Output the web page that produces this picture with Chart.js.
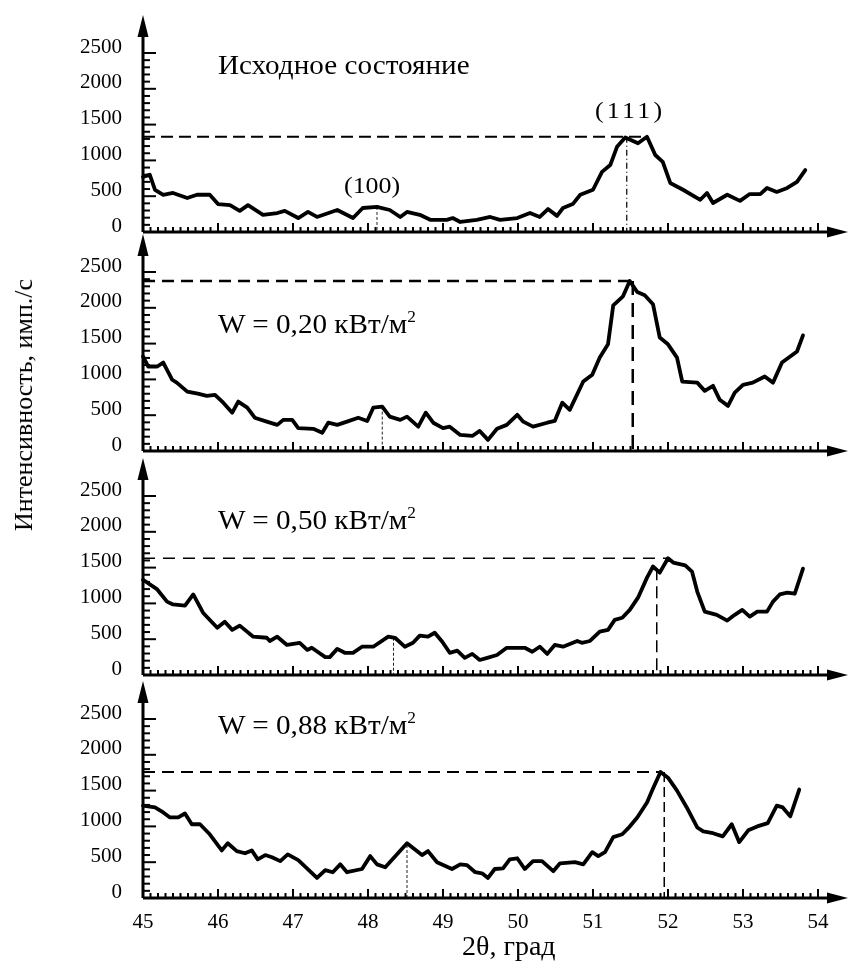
<!DOCTYPE html>
<html>
<head>
<meta charset="utf-8">
<script src="https://cdn.jsdelivr.net/npm/chart.js@4/dist/chart.umd.min.js"></script>
<style>
  body { margin: 0; background: #fff; }
  #wrap { position: relative; width: 852px; height: 965px; font-family: "Liberation Serif", "DejaVu Serif", serif; color: #000; }
  canvas { position: absolute; left: 0; }
  .lbl { position: absolute; white-space: nowrap; line-height: 1; font-size: 27px; transform: scaleX(1.08); transform-origin: left center; }
  .lbl sup { font-size: 16px; vertical-align: 11px; line-height: 0; }
  .hkl { font-size: 24px; }
  #ytitle { position: absolute; left: 24px; top: 405px; transform: translate(-50%, -50%) rotate(-90deg); font-size: 26px; white-space: nowrap; }
</style>
</head>
<body>
<div id="wrap">
  <canvas id="p1" width="852" height="232" style="top:7px"></canvas>
  <canvas id="p2" width="852" height="232" style="top:226px"></canvas>
  <canvas id="p3" width="852" height="232" style="top:450px"></canvas>
  <canvas id="p4" width="852" height="270" style="top:673px"></canvas>

  <div class="lbl" style="left:218px;top:52px">Исходное состояние</div>
  <div class="lbl hkl" style="left:595px;top:98px;letter-spacing:3px">(111)</div>
  <div class="lbl hkl" style="left:344px;top:173px">(100)</div>
  <div class="lbl" style="left:218px;top:311px">W = 0,20 кВт/м<sup>2</sup></div>
  <div class="lbl" style="left:218px;top:507px">W = 0,50 кВт/м<sup>2</sup></div>
  <div class="lbl" style="left:218px;top:712px">W = 0,88 кВт/м<sup>2</sup></div>
  <div class="lbl" style="left:462px;top:932px;transform:none;font-size:28px">2θ, град</div>
  <div id="ytitle">Интенсивность, имп./с</div>
</div>

<script>
// 2θ (град) and intensity (имп./с) for each state
const theta1 = [45.00,45.09,45.16,45.27,45.40,45.59,45.72,45.89,46.00,46.16,46.29,46.40,46.60,46.79,46.89,47.07,47.20,47.32,47.59,47.80,47.93,48.12,48.29,48.43,48.52,48.69,48.83,49.05,49.13,49.23,49.45,49.63,49.76,49.99,50.16,50.29,50.40,50.52,50.60,50.73,50.83,51.00,51.12,51.23,51.32,51.43,51.60,51.72,51.83,51.93,52.03,52.20,52.43,52.52,52.60,52.79,52.96,53.09,53.23,53.32,53.45,53.59,53.72,53.83];
const counts1 = [770,800,590,520,545,475,520,520,390,375,295,375,240,265,295,195,280,210,307,195,335,350,307,210,280,240,170,170,195,140,170,210,170,195,265,210,320,225,335,390,520,590,840,935,1190,1320,1240,1330,1075,980,685,590,450,545,405,520,435,530,530,615,560,615,700,865];

const theta2 = [45.00,45.07,45.19,45.27,45.39,45.45,45.59,45.73,45.85,45.96,46.07,46.19,46.27,46.39,46.49,46.65,46.79,46.87,46.99,47.07,47.27,47.39,47.47,47.59,47.72,47.87,47.99,48.07,48.19,48.29,48.43,48.52,48.67,48.77,48.87,49.00,49.09,49.23,49.39,49.49,49.60,49.72,49.85,49.99,50.07,50.20,50.39,50.49,50.59,50.69,50.87,50.99,51.09,51.20,51.27,51.40,51.49,51.59,51.69,51.80,51.89,52.00,52.12,52.19,52.39,52.49,52.60,52.69,52.80,52.89,53.00,53.13,53.29,53.40,53.52,53.72,53.80];
const counts2 = [1320,1180,1180,1235,995,955,830,800,770,785,675,535,690,605,465,410,365,435,435,320,310,255,395,365,410,465,420,605,620,480,435,480,340,535,395,320,340,225,210,280,155,310,365,505,410,340,395,420,675,575,970,1065,1305,1490,2035,2160,2375,2220,2175,2050,1585,1490,1305,970,955,840,910,715,630,815,925,955,1040,955,1235,1390,1615];

const theta3 = [45.00,45.19,45.32,45.40,45.56,45.67,45.80,45.99,46.09,46.19,46.29,46.47,46.65,46.69,46.79,46.92,47.09,47.19,47.25,47.43,47.49,47.59,47.69,47.80,47.92,48.07,48.27,48.36,48.49,48.60,48.69,48.80,48.89,48.99,49.09,49.19,49.29,49.39,49.49,49.59,49.72,49.85,50.09,50.19,50.29,50.39,50.49,50.60,50.79,50.85,50.96,51.09,51.20,51.29,51.39,51.49,51.60,51.72,51.80,51.89,52.00,52.07,52.23,52.32,52.39,52.49,52.65,52.79,52.89,52.99,53.09,53.19,53.32,53.40,53.49,53.59,53.69,53.80];
const counts3 = [1330,1195,1025,985,970,1125,870,660,745,630,690,535,520,475,535,420,450,350,380,250,250,365,310,310,395,395,535,520,395,450,550,535,590,465,310,340,240,295,210,240,280,380,380,325,395,295,420,395,475,450,475,605,630,770,800,910,1080,1360,1515,1430,1630,1570,1530,1445,1165,885,840,760,840,910,815,885,885,1025,1125,1150,1135,1485];

const theta4 = [45.00,45.16,45.27,45.36,45.47,45.56,45.65,45.76,45.89,46.05,46.13,46.25,46.36,46.45,46.53,46.63,46.72,46.83,46.93,47.07,47.32,47.43,47.53,47.63,47.72,47.92,48.03,48.12,48.23,48.52,48.72,48.80,48.92,49.12,49.23,49.32,49.43,49.52,49.60,49.69,49.80,49.89,49.99,50.09,50.20,50.32,50.47,50.56,50.76,50.87,50.99,51.07,51.16,51.27,51.39,51.47,51.59,51.72,51.80,51.90,52.00,52.12,52.25,52.39,52.47,52.60,52.73,52.85,52.95,53.07,53.19,53.33,53.45,53.53,53.63,53.75];
const counts4 = [1290,1265,1195,1125,1125,1180,1030,1030,890,665,765,655,625,665,540,600,570,515,610,530,280,390,360,470,360,405,585,470,430,765,600,655,500,405,470,460,360,345,280,405,415,540,555,405,515,515,375,485,500,470,640,585,640,850,890,975,1125,1335,1530,1760,1680,1500,1265,985,930,905,860,1030,780,945,1000,1045,1290,1265,1140,1515];

// dashed guides: peak level, where the level line stops, drop line position and its top
const peakLevel = [1330, 2375, 1630, 1760];
const levelEnd  = [51.72, 51.49, 52.00, 51.92];
const dropTheta = [51.45, 51.53, 51.85, 51.95];
const dropTop   = [1330, 2375, 1490, 1760];
// thin marker under the (100) position
const markTheta = [48.12, 48.19, 48.34, 48.52];
const markTop   = [350, 620, 520, 740];

const seriesTheta = [theta1, theta2, theta3, theta4];
const seriesCounts = [counts1, counts2, counts3, counts4];

// per panel line styles of the guides
const levelStyle = [
  { dash: [12, 6], width: 2 },
  { dash: [12, 7], width: 2.5 },
  { dash: [12, 8], width: 1.5 },
  { dash: [12, 7], width: 2 }
];
const dropStyle = [
  { dash: [6, 3, 1, 3], width: 1.2 },
  { dash: [14, 8], width: 2.5 },
  { dash: [12, 6], width: 1.5 },
  { dash: [10, 5], width: 1.5 }
];

const serif = "'Liberation Serif', 'DejaVu Serif', serif";

// inward ticks, axis lines and arrows like the original figure
const axesDeco = {
  id: 'axesDeco',
  afterDatasetsDraw(chart) {
    const {ctx, scales: {x, y}} = chart;
    const x0 = x.getPixelForValue(45), x1 = x.getPixelForValue(54);
    const yb = y.getPixelForValue(0), yt = y.getPixelForValue(2500);
    ctx.save();
    ctx.strokeStyle = '#000';
    ctx.fillStyle = '#000';
    ctx.lineWidth = 2;
    for (let i = 0; i <= 90; i++) {
      const px = x.getPixelForValue(45 + i / 10);
      const len = i % 10 === 0 ? 9 : 5;
      ctx.beginPath(); ctx.moveTo(px, yb); ctx.lineTo(px, yb - len); ctx.stroke();
    }
    for (let v = 0; v <= 2500; v += 100) {
      const py = y.getPixelForValue(v);
      const len = v % 500 === 0 ? 13 : 7;
      ctx.beginPath(); ctx.moveTo(x0, py); ctx.lineTo(x0 + len, py); ctx.stroke();
    }
    ctx.lineWidth = 3;
    ctx.beginPath();
    ctx.moveTo(x0, yb); ctx.lineTo(x1 + 14, yb);
    ctx.moveTo(x0, yb); ctx.lineTo(x0, yt - 20);
    ctx.stroke();
    // arrow heads
    ctx.beginPath();
    ctx.moveTo(x0, yt - 38); ctx.lineTo(x0 - 5.5, yt - 16); ctx.lineTo(x0 + 5.5, yt - 16); ctx.closePath();
    ctx.fill();
    ctx.beginPath();
    ctx.moveTo(x1 + 30, yb); ctx.lineTo(x1 + 9, yb - 5.5); ctx.lineTo(x1 + 9, yb + 5.5); ctx.closePath();
    ctx.fill();
    ctx.restore();
  }
};

function makePanel(id, i, showX) {
  const pts = seriesTheta[i].map((t, k) => ({ x: t, y: seriesCounts[i][k] }));
  const height = showX ? 45 : 7;
  new Chart(document.getElementById(id), {
    type: 'line',
    data: {
      datasets: [
        {
          data: pts,
          borderColor: '#000', borderWidth: 3.8, pointRadius: 0, tension: 0,
          borderJoinStyle: 'round', borderCapStyle: 'round', clip: false
        },
        {
          data: [{ x: 45, y: peakLevel[i] }, { x: levelEnd[i], y: peakLevel[i] }],
          borderColor: '#000', borderWidth: levelStyle[i].width, borderDash: levelStyle[i].dash, pointRadius: 0
        },
        {
          data: [{ x: dropTheta[i], y: dropTop[i] }, { x: dropTheta[i], y: 0 }],
          borderColor: '#000', borderWidth: dropStyle[i].width, borderDash: dropStyle[i].dash, pointRadius: 0
        },
        {
          data: [{ x: markTheta[i], y: markTop[i] }, { x: markTheta[i], y: 0 }],
          borderColor: '#222', borderWidth: 1, borderDash: [3, 2], pointRadius: 0
        }
      ]
    },
    options: {
      responsive: false,
      animation: false,
      layout: { padding: { top: 46, right: 34, left: 0, bottom: 0 } },
      plugins: { legend: { display: false }, tooltip: { enabled: false } },
      scales: {
        x: {
          type: 'linear', min: 45, max: 54,
          grid: { display: false, drawTicks: false },
          border: { display: false },
          ticks: { display: showX, stepSize: 1, padding: 12, color: '#000', font: { family: serif, size: 21 } },
          afterFit: (scale) => { scale.height = height; scale.paddingLeft = 0; scale.paddingRight = 0; }
        },
        y: {
          min: 0, max: 2500,
          grid: { display: false, drawTicks: false },
          border: { display: false },
          ticks: {
            stepSize: 500, padding: 21, labelOffset: -6, color: '#000', font: { family: serif, size: 21 },
            callback: (v) => String(v)
          },
          afterFit: (scale) => { scale.width = 143; scale.paddingTop = 0; scale.paddingBottom = 0; }
        }
      }
    },
    plugins: [axesDeco]
  });
}

makePanel('p1', 0, false);
makePanel('p2', 1, false);
makePanel('p3', 2, false);
makePanel('p4', 3, true);
</script>
</body>
</html>
